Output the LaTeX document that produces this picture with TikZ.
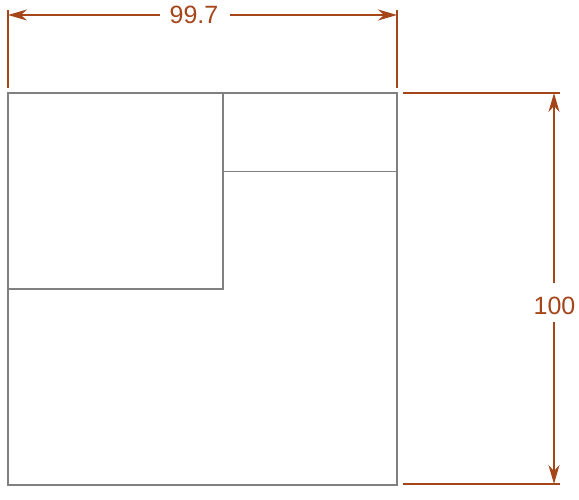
\documentclass[tikz,border=0pt]{standalone}
\usepackage{fontspec}
\setmainfont{Liberation Sans}
\usetikzlibrary{arrows.meta}
\definecolor{dimc}{HTML}{A5451A}
\definecolor{boxc}{HTML}{808080}
\tikzset{
  x=1pt,y=-1pt,
  dimline/.style={draw=dimc,line width=2pt},
  dimarrow/.style={dimline,-{Stealth[length=19pt,width=11pt,inset=6pt]}},
  dimtext/.style={text=dimc,font=\fontsize{25}{25}\selectfont,inner sep=0pt},
  boxline/.style={draw=boxc,line width=1.8pt},
  thinbox/.style={draw=boxc,line width=1pt}
}
\begin{document}
\begin{tikzpicture}
\useasboundingbox (0,0) rectangle (579,500);
% box
\coordinate (tl) at (8,93);
\coordinate (tr) at (397,93);
\coordinate (bl) at (8,485);
\coordinate (br) at (397,485);
\coordinate (imt) at (223,93);
\coordinate (imb) at (223,289);
\coordinate (il) at (8,289);
\coordinate (ha) at (223,171.5);
\coordinate (hb) at (397,171.5);
\draw[boxline] (tl) -- (tr) -- (br) -- (bl) -- cycle;
\draw[boxline] (imt) -- (imb) -- (il);
\draw[thinbox] (ha) -- (hb);
% top dimension
\coordinate (e1a) at (8,10);
\coordinate (e1b) at (8,88);
\coordinate (e2a) at (397,10);
\coordinate (e2b) at (397,88);
\coordinate (d1) at (8,15);
\coordinate (d2) at (397,15);
\node[dimtext] (wlab) at (194,15) {99.7};
\coordinate (wl) at (160,15);
\coordinate (wr) at (230,15);
\draw[dimline] (e1a) -- (e1b);
\draw[dimline] (e2a) -- (e2b);
\draw[dimarrow] (wl) -- (d1);
\draw[dimarrow] (wr) -- (d2);
% right dimension
\coordinate (e3a) at (403,93);
\coordinate (e3b) at (560,93);
\coordinate (e4a) at (403,484);
\coordinate (e4b) at (560,484);
\coordinate (d3) at (554,93);
\coordinate (d4) at (554,484);
\node[dimtext] (hlab) at (554.5,306) {100};
\coordinate (ht) at (554,283);
\coordinate (hbm) at (554,322);
\draw[dimline] (e3a) -- (e3b);
\draw[dimline] (e4a) -- (e4b);
\draw[dimarrow] (ht) -- (d3);
\draw[dimarrow] (hbm) -- (d4);
\end{tikzpicture}
\end{document}
